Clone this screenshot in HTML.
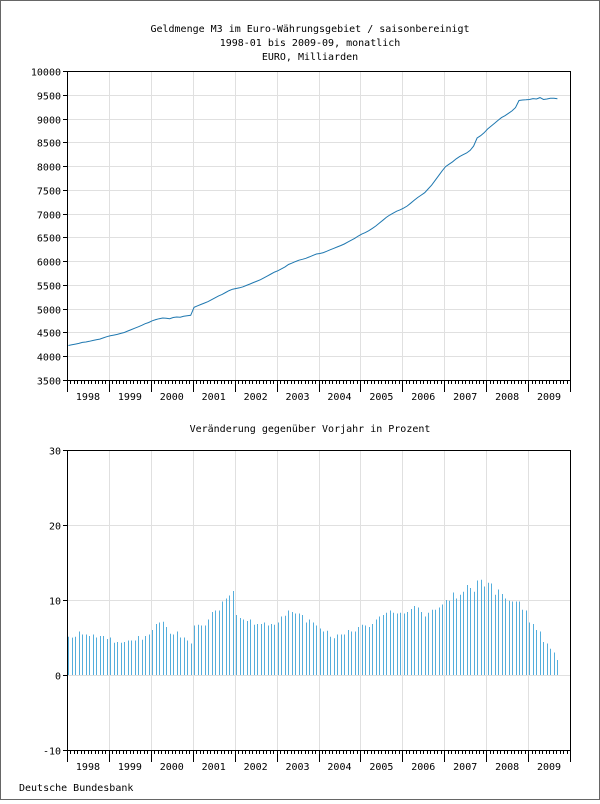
<!DOCTYPE html>
<html><head><meta charset="utf-8"><style>
body{margin:0;background:#fff}
#wrap{position:relative;width:600px;height:800px;box-sizing:border-box;border:1px solid #666;background:#fff}
svg text{font-family:"DejaVu Sans Mono","Liberation Mono",monospace;font-size:10px;fill:#000}
</style></head><body>
<div id="wrap">
<svg id="svg" width="598" height="798" viewBox="1 1 598 798" xmlns="http://www.w3.org/2000/svg"></svg>
</div>
<script>
const years=["1998","1999","2000","2001","2002","2003","2004","2005","2006","2007","2008","2009"];
const levelTicks=[3500,4000,4500,5000,5500,6000,6500,7000,7500,8000,8500,9000,9500,10000];
const pctTicks=[-10,0,10,20,30];
const levels=[4225,4240,4255,4270,4290,4300,4315,4330,4345,4360,4385,4410,
4430,4445,4460,4480,4500,4530,4560,4590,4620,4650,4685,4710,
4745,4770,4790,4805,4800,4790,4815,4825,4820,4840,4850,4860,
5030,5060,5090,5120,5150,5190,5230,5270,5300,5340,5380,5410,
5425,5440,5460,5490,5520,5550,5580,5610,5650,5690,5730,5770,
5800,5840,5880,5930,5960,5990,6020,6040,6060,6090,6120,6150,
6160,6180,6210,6240,6270,6300,6330,6360,6400,6440,6480,6530,
6570,6600,6640,6690,6740,6800,6860,6920,6970,7010,7050,7080,
7115,7160,7220,7280,7340,7390,7440,7520,7600,7700,7800,7900,
7990,8040,8090,8150,8200,8240,8275,8330,8420,8590,8640,8700,
8780,8840,8900,8960,9020,9060,9110,9160,9230,9380,9390,9395,
9400,9420,9410,9440,9400,9410,9425,9425,9415];
const pct=[5.1,4.98,5.1,5.8,5.4,5.4,5.2,5.4,5.0,5.2,5.2,4.8,
5.0,4.3,4.4,4.3,4.4,4.6,4.6,4.6,5.2,4.7,5.2,5.4,
6.0,6.8,7.0,7.1,6.4,5.5,5.4,5.8,5.0,5.0,4.6,4.2,
6.6,6.7,6.6,6.6,7.4,8.4,8.6,8.6,9.8,10.2,10.6,11.2,
8.0,7.6,7.4,7.2,7.4,6.7,6.8,6.8,7.0,6.6,6.8,6.7,
7.0,7.8,7.9,8.6,8.4,8.2,8.2,8.0,7.0,7.4,7.0,6.6,
6.2,5.8,5.9,5.1,4.9,5.4,5.4,5.4,6.0,5.8,5.8,6.4,
6.7,6.6,6.4,6.8,7.4,7.8,8.0,8.3,8.6,8.3,8.2,8.3,
8.2,8.4,8.8,9.2,9.0,8.4,7.8,8.3,8.7,8.7,9.0,9.4,
10.0,9.9,11.0,10.2,10.7,11.1,12.0,11.6,11.1,12.6,12.7,11.8,
12.3,12.2,10.7,11.4,10.8,10.2,9.9,9.8,9.8,9.8,8.7,8.6,
7.0,6.8,6.0,5.8,4.4,4.2,3.5,3.0,2.0];

const NS="http://www.w3.org/2000/svg";
const svg=document.getElementById('svg');
function mk(t,a,p){const e=document.createElementNS(NS,t);for(const k in a)e.setAttribute(k,a[k]);(p||svg).appendChild(e);return e;}
const X0=67,X1=570,MW=(X1-X0)/144;
function xm(i){return X0+(i+0.4)*MW;}
function txt(s,x,y,anchor,name){const e=mk('text',{x:x,y:y,'text-anchor':anchor});e.textContent=s;

return e;}

txt("Geldmenge M3 im Euro-Währungsgebiet / saisonbereinigt",310,32,"middle","chart-title");
txt("1998-01 bis 2009-09, monatlich",310,46,"middle","chart-subtitle");
txt("EURO, Milliarden",310,60,"middle","unit-label");
txt("Veränderung gegenüber Vorjahr in Prozent",310,432,"middle","lower-chart-title");
txt("Deutsche Bundesbank",19,791,"start","source-label");

function panel(top,bot,min,max,ticks,name){
  const ys=v=>bot-(v-min)/(max-min)*(bot-top);
  const g=mk('g',{});
  
  
  ticks.forEach(t=>{const y=Math.round(ys(t))+0.5;
    const l=mk('line',{x1:X0,x2:X1,y1:y,y2:y,stroke:'#e0e0e0','stroke-width':1},g);
    
    
    mk('line',{x1:X0-4,x2:X0,y1:y,y2:y,stroke:'#000'},g);
    txt(String(t),61,y+4,"end","y-tick-label");});
  years.forEach((yr,k)=>{const x=Math.round(X0+k*12*MW)+0.5;
    if(k>0){const l=mk('line',{x1:x,x2:x,y1:top,y2:bot,stroke:'#e0e0e0'},g);
    
    }
    txt(yr,X0+(k+0.5)*12*MW,bot+20,"middle","x-tick-label");});
  for(let i=0;i<=144;i++){const x=Math.round(X0+i*MW)+0.5;
    mk('line',{x1:x,x2:x,y1:bot,y2:bot+(i%12==0?12:4),stroke:'#000'},g);}
  const r=mk('rect',{x:X0+0.5,y:top+0.5,width:X1-X0,height:bot-top,fill:'none',stroke:'#000'},g);
  
  
  return ys;
}
const ys1=panel(71,380,3500,10000,levelTicks,'level-chart');
const ys2=panel(450,750,-10,30,pctTicks,'growth-chart');

let d='';levels.forEach((v,i)=>{d+=(i?'L':'M')+xm(i).toFixed(1)+' '+ys1(v).toFixed(1);});
const line=mk('path',{d:d,fill:'none',stroke:'#1f78b0','stroke-width':1});



pct.forEach((v,i)=>{const x=Math.round(xm(i))+0.5;
  const b=mk('line',{x1:x,x2:x,y1:ys2(0),y2:ys2(v),stroke:'#55aedc','stroke-width':1});
  
  });
</script>
</body></html>
